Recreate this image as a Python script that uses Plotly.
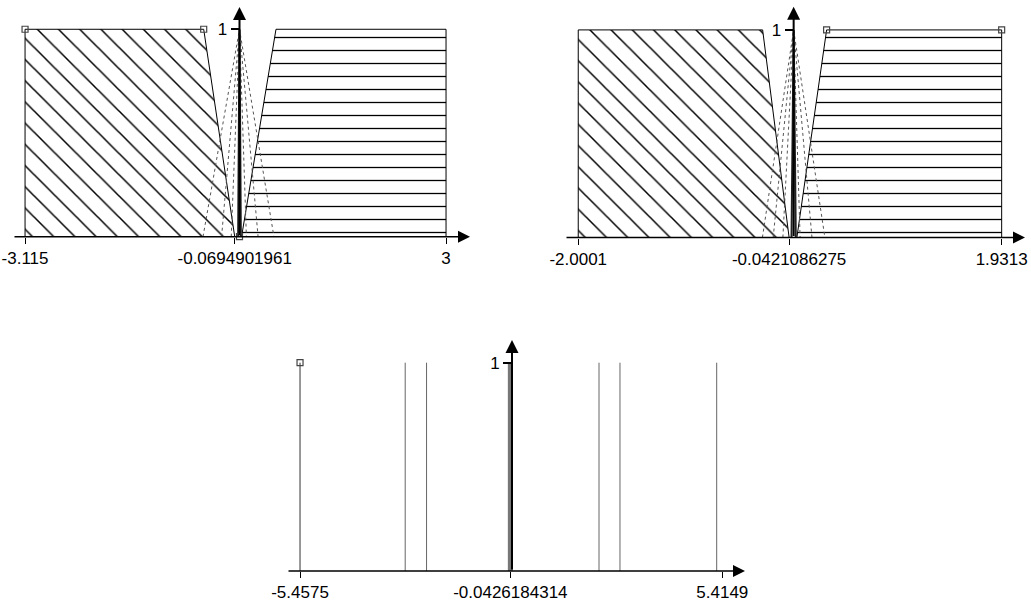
import plotly.graph_objects as go

W, H = 1031, 603

# ---------------- data ----------------
# Panel 1 (top-left)
p1_tickvals = [-3.115, -0.0694901961, 3]
p1_ticktext = ["-3.115", "-0.0694901961", "3"]
p1_left_x = [-3.115, -3.115, -0.52, -0.0694901961]
p1_left_y = [0, 1, 1, 0]
p1_right_x = [0.03, 0.53, 3, 3]
p1_right_y = [0, 1, 1, 0]
p1_tri_x = [[-0.53, 0, 0.50], [-0.26, 0, 0.27], [-0.12, 0, 0.10]]
p1_spike_x = [-0.02, 0, 0.02]
p1_mark_x = [-3.115, -0.52, 0]
p1_mark_y = [1, 1, 0]

# Panel 2 (top-right)
p2_tickvals = [-2.0001, -0.0421086275, 1.9313]
p2_ticktext = ["-2.0001", "-0.0421086275", "1.9313"]
p2_left_x = [-2.0001, -2.0001, -0.288, -0.0421086275]
p2_left_y = [0, 1, 1, 0]
p2_right_x = [0.03, 0.306, 1.9313, 1.9313]
p2_right_y = [0, 1, 1, 0]
p2_tri_x = [[-0.29, 0, 0.29], [-0.19, 0, 0.17], [-0.10, 0, 0.06]]
p2_spike_x = [-0.02, 0, 0.02]
p2_mark_x = [0.306, 1.9313]
p2_mark_y = [1, 1]

# Panel 3 (bottom)
p3_tickvals = [-5.4575, -0.0426184314, 5.4149]
p3_ticktext = ["-5.4575", "-0.0426184314", "5.4149"]
p3_singletons = [-5.4575, -2.75, -2.20, 2.24, 2.78, 5.27]
p3_center = -0.0426184314
p3_mark_x = [-5.4575]
p3_mark_y = [1]

# ---------------- layout geometry ----------------
panels = {
    1: dict(xd=[13 / W, 470 / W], xr=[-3.290, 3.348], yd=[1 - 236.7 / H, 1 - 5 / H], yr=[0, 1.117], ytip=1.107),
    2: dict(xd=[565 / W, 1025 / W], xr=[-2.123, 2.148], yd=[1 - 237.5 / H, 1 - 5 / H], yr=[0, 1.12], ytip=1.112),
    3: dict(xd=[287 / W, 745 / W], xr=[-5.793, 5.999], yd=[1 - 571 / H, 1 - 335 / H], yr=[0, 1.133], ytip=1.109),
}
ticks = {1: (p1_tickvals, p1_ticktext), 2: (p2_tickvals, p2_ticktext), 3: (p3_tickvals, p3_ticktext)}

FONT = dict(family="Liberation Sans, Arial", size=17, color="black")

fig = go.Figure()


def ax(i):
    return ("x" if i == 1 else f"x{i}"), ("y" if i == 1 else f"y{i}")


def trap(i, xs, ys, shape, size):
    xa, ya = ax(i)
    fig.add_trace(go.Scatter(
        x=xs + [xs[0]], y=ys + [ys[0]], xaxis=xa, yaxis=ya, mode="lines",
        line=dict(color="black", width=1), fill="toself", fillcolor="white",
        fillpattern=dict(shape=shape, size=size, solidity=0.1, fgcolor="black", bgcolor="white"),
        hoverinfo="skip", showlegend=False))


def tri(i, xs, color, width, dash):
    xa, ya = ax(i)
    fig.add_trace(go.Scatter(
        x=xs, y=[0, 1, 0], xaxis=xa, yaxis=ya, mode="lines",
        line=dict(color=color, width=width, dash=dash), hoverinfo="skip", showlegend=False))


def marks(i, xs, ys):
    xa, ya = ax(i)
    fig.add_trace(go.Scatter(
        x=xs, y=ys, xaxis=xa, yaxis=ya, mode="markers", cliponaxis=False,
        marker=dict(symbol="square-open", size=6, color="#444", line=dict(width=1.2)),
        hoverinfo="skip", showlegend=False))


# Panel 1
trap(1, p1_left_x, p1_left_y, "\\", 15)
trap(1, p1_right_x, p1_right_y, "-", 13)
for t in p1_tri_x:
    tri(1, t, "#555", 1, "dot")
tri(1, p1_spike_x, "#222", 2, "solid")
marks(1, p1_mark_x, p1_mark_y)

# Panel 2
trap(2, p2_left_x, p2_left_y, "\\", 15)
trap(2, p2_right_x, p2_right_y, "-", 13)
for t in p2_tri_x:
    tri(2, t, "#555", 1, "dot")
tri(2, p2_spike_x, "#222", 2, "solid")
marks(2, p2_mark_x, p2_mark_y)

# Panel 3
for s in p3_singletons:
    xa, ya = ax(3)
    fig.add_trace(go.Scatter(x=[s, s], y=[0, 1], xaxis=xa, yaxis=ya, mode="lines",
                             line=dict(color="#333" if s == p3_singletons[0] else "#666", width=1),
                             hoverinfo="skip", showlegend=False))
xa, ya = ax(3)
fig.add_trace(go.Scatter(x=[p3_center, p3_center], y=[0, 1], xaxis=xa, yaxis=ya, mode="lines",
                         line=dict(color="#777", width=5), hoverinfo="skip", showlegend=False))
marks(3, p3_mark_x, p3_mark_y)

annotations = []
layout = {}
for i, p in panels.items():
    xa, ya = ax(i)
    xkey = "xaxis" if i == 1 else f"xaxis{i}"
    ykey = "yaxis" if i == 1 else f"yaxis{i}"
    ypos = p["xd"][0] + (0 - p["xr"][0]) / (p["xr"][1] - p["xr"][0]) * (p["xd"][1] - p["xd"][0])
    tv, tt = ticks[i]
    layout[xkey] = dict(domain=p["xd"], range=p["xr"], anchor=ya, showgrid=False, zeroline=False,
                        showline=False, tickvals=tv, ticktext=tt, ticks="outside", ticklen=6,
                        tickcolor="black", tickwidth=1, tickfont=FONT, fixedrange=True, automargin=False,
                        ticklabeloverflow="allow")
    layout[ykey] = dict(domain=p["yd"], range=p["yr"], anchor="free", position=ypos, showgrid=False,
                        zeroline=False, showline=False, tickvals=[1], ticktext=["1"], ticks="outside",
                        ticklen=9, tickcolor="black", tickwidth=1.5, tickfont=FONT, fixedrange=True,
                        automargin=False, ticklabeloverflow="allow")
    # x axis arrow
    annotations.append(dict(x=p["xr"][1], y=0, ax=p["xr"][0], ay=0, xref=xa, yref=ya, axref=xa, ayref=ya,
                            text="", showarrow=True, arrowhead=2, arrowsize=1.6, arrowwidth=1.5,
                            arrowcolor="black", standoff=0, startstandoff=0))
    # y axis arrow
    annotations.append(dict(x=0, y=p["ytip"], ax=0, ay=0, xref=xa, yref=ya, axref=xa, ayref=ya,
                            text="", showarrow=True, arrowhead=2, arrowsize=1.3, arrowwidth=2,
                            arrowcolor="black", standoff=0, startstandoff=0))

fig.update_layout(template="none", width=W, height=H, margin=dict(l=0, r=0, t=0, b=0, autoexpand=False),
                  paper_bgcolor="white", plot_bgcolor="rgba(0,0,0,0)", showlegend=False,
                  annotations=annotations, **layout)

fig.write_html("out.html", config={"displayModeBar": False},
               post_script="document.body.style.margin='0';document.body.style.overflow='hidden';")
